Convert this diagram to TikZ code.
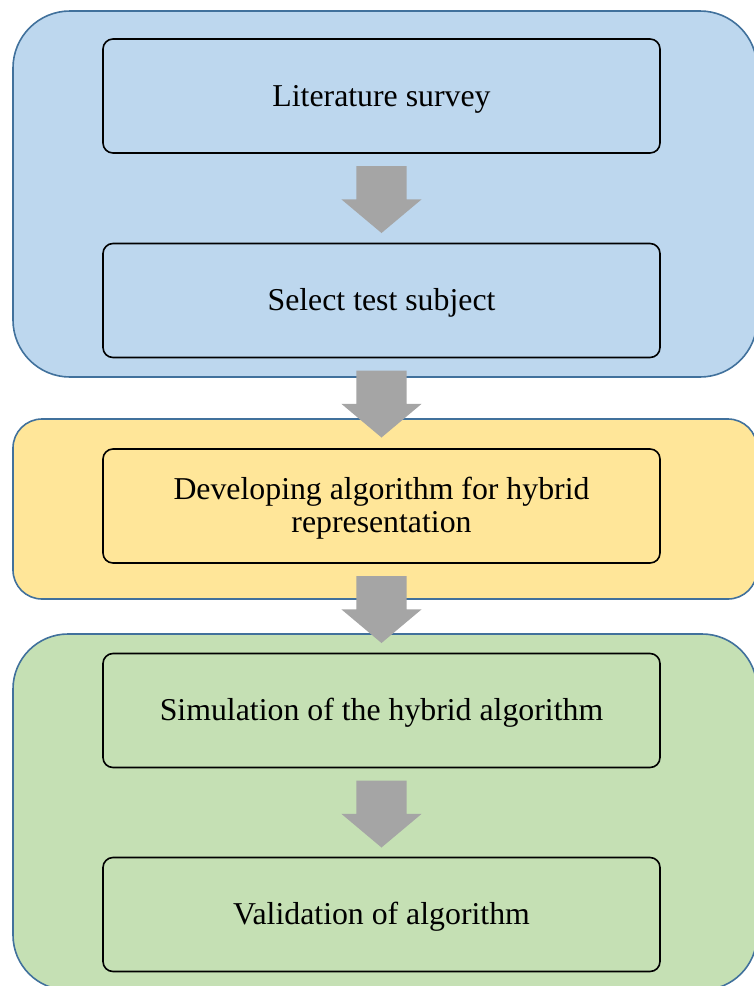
\documentclass[tikz,border=0pt]{standalone}
\usepackage{fontspec}
\setmainfont{Liberation Serif}
\usetikzlibrary{shapes.arrows,calc}
\definecolor{PhaseBlue}{HTML}{BDD7EE}
\definecolor{PhaseYellow}{HTML}{FFE699}
\definecolor{PhaseGreen}{HTML}{C5E0B4}
\definecolor{PhaseEdge}{HTML}{41719C}
\definecolor{ArrowGray}{HTML}{A5A5A5}
\tikzset{
	phase/.style={draw=PhaseEdge, line width=1.6pt},
	stepbox/.style={draw=black, line width=1.6pt, rounded corners=10pt,
		minimum width=557pt, minimum height=114pt, align=center,
		text height=21.5pt, text depth=1pt,
		font=\fontsize{31.8}{33}\selectfont},
	blockarrow/.style={single arrow, fill=ArrowGray, draw=none, rotate=-90,
		anchor=tail, minimum height=67pt, inner xsep=0pt, inner ysep=25pt,
		single arrow head extend=15pt, single arrow tip angle=100}
}
\begin{document}
\begin{tikzpicture}[x=1pt,y=-1pt]
	  \def\PhaseLeft{13}
	  \def\PhaseRight{757}
	  \def\MidX{381.5}
	  \def\ArrowGap{12}
	  \useasboundingbox (0,0) rectangle (754,986);
	  \draw[phase, fill=PhaseBlue, rounded corners=57pt]
	    (\PhaseLeft,11) rectangle (\PhaseRight,377);
	  \draw[phase, fill=PhaseYellow, rounded corners=29pt]
	    (\PhaseLeft,419) rectangle (\PhaseRight,599);
	  \draw[phase, fill=PhaseGreen, rounded corners=55pt]
	    (\PhaseLeft,634) rectangle (\PhaseRight,990);
	  \node[stepbox] (lit)   at (\MidX,96)    {Literature survey};
	  \node[stepbox] (subj)  at (\MidX,300.5) {Select test subject};
	  \node[stepbox, text height=54.5pt] (algo) at (\MidX,506)
	    {Developing algorithm for hybrid\\representation};
	  \node[stepbox] (sim)   at (\MidX,710.5) {Simulation of the hybrid algorithm};
	  \node[stepbox] (valid) at (\MidX,914.5) {Validation of algorithm};
	  \node[blockarrow] (litsubj)  at ($(lit.south)+(0,\ArrowGap)$) {};
	  \node[blockarrow] (subjalgo) at ($(subj.south)+(0,\ArrowGap)$) {};
	  \node[blockarrow] (algosim)  at ($(algo.south)+(0,\ArrowGap)$) {};
	  \node[blockarrow] (simvalid) at ($(sim.south)+(0,\ArrowGap)$) {};
	\end{tikzpicture}
\end{document}
